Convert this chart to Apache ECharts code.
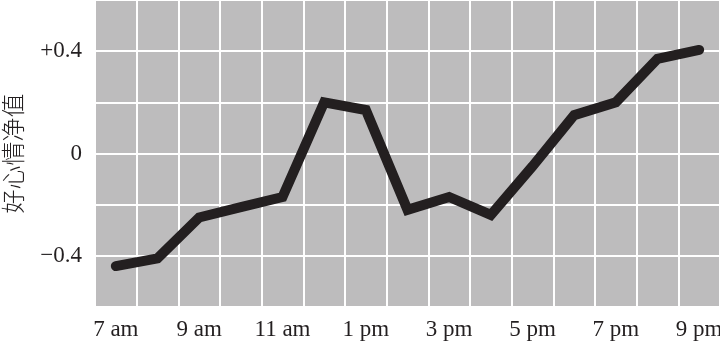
<!DOCTYPE html>
<html>
<head>
<meta charset="utf-8">
<script src="https://cdn.jsdelivr.net/npm/echarts@6/dist/echarts.min.js"></script>
<style>html,body{margin:0;padding:0;background:#fff}#c{width:720px;height:344px}</style>
</head>
<body>
<div id="c"></div>
<script>
const hours = ['7 am','8 am','9 am','10 am','11 am','12 pm','1 pm','2 pm','3 pm','4 pm','5 pm','6 pm','7 pm','8 pm','9 pm'];
const netMood = [-0.44, -0.41, -0.25, -0.21, -0.17, 0.20, 0.17, -0.22, -0.17, -0.24, -0.05, 0.15, 0.20, 0.37, 0.405];
const yTickLabels = {'0.4': '+0.4', '0': '0', '-0.4': '\u22120.4'};
const yTitle = '好心情净值';

const chart = echarts.init(document.getElementById('c'), null, {renderer: 'canvas'});
const textColor = '#231f20';
chart.setOption({
  animation: false,
  grid: {left: 95, right: 0, top: 0, bottom: 37, show: true, backgroundColor: '#bdbcbd', borderWidth: 0, containLabel: false, outerBoundsMode: 'none'},
  xAxis: {
    type: 'category',
    data: hours,
    boundaryGap: true,
    axisLine: {show: false},
    axisTick: {show: false},
    splitLine: {show: true, interval: 0, lineStyle: {color: '#ffffff', width: 2}},
    axisLabel: {
      interval: 1,
      margin: 11,
      color: textColor,
      fontFamily: 'Liberation Serif',
      fontSize: 23
    }
  },
  yAxis: {
    type: 'value',
    min: -0.6,
    max: 0.6,
    interval: 0.2,
    name: yTitle,
    nameLocation: 'middle',
    nameRotate: 90,
    nameGap: 70,
    nameTextStyle: {color: textColor, fontFamily: 'Noto Sans CJK SC', fontSize: 24, fontWeight: 300},
    axisLine: {show: false},
    axisTick: {show: false},
    splitLine: {show: true, lineStyle: {color: '#ffffff', width: 2}},
    axisLabel: {
      margin: 13,
      color: textColor,
      fontFamily: 'Liberation Serif',
      fontSize: 23,
      formatter: function (v) {
        const k = String(Math.round(v * 10) / 10);
        return yTickLabels.hasOwnProperty(k) ? yTickLabels[k] : '';
      }
    }
  },
  series: [{
    type: 'line',
    data: netMood,
    symbol: 'none',
    lineStyle: {color: '#231f20', width: 10, cap: 'round', join: 'miter'}
  }]
});
</script>
</body>
</html>
